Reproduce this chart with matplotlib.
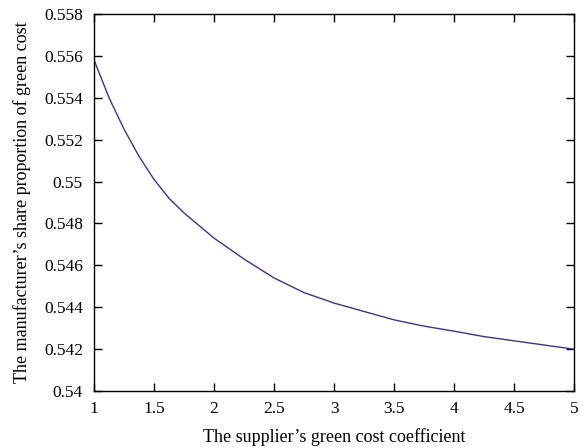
import matplotlib
matplotlib.use("Agg")
import matplotlib.pyplot as plt

# values
coef = [1.0, 1.125, 1.25, 1.375, 1.5, 1.625, 1.75, 1.875, 2.0, 2.25, 2.5, 2.75,
        3.0, 3.25, 3.5, 3.75, 4.0, 4.25, 4.5, 4.75, 5.0]
share = [0.5558, 0.5540, 0.5525, 0.5512, 0.5501, 0.5492, 0.5485, 0.5479, 0.5473,
         0.5463, 0.5454, 0.5447, 0.5442, 0.5438, 0.5434, 0.5431, 0.54286, 0.5426,
         0.5424, 0.5422, 0.5420]

x_ticks = [1, 1.5, 2, 2.5, 3, 3.5, 4, 4.5, 5]
x_labels = ["1", "1.5", "2", "2.5", "3", "3.5", "4", "4.5", "5"]
y_ticks = [0.54, 0.542, 0.544, 0.546, 0.548, 0.55, 0.552, 0.554, 0.556, 0.558]
y_labels = ["0.54", "0.542", "0.544", "0.546", "0.548", "0.55", "0.552", "0.554", "0.556", "0.558"]

plt.rcParams["font.family"] = ["Liberation Serif", "DejaVu Serif"]
plt.rcParams["font.size"] = 12.5


def main():
    fig = plt.figure(figsize=(5.84, 4.48), dpi=100)
    ax = fig.add_axes([0.161, 0.127, 0.822, 0.842])

    ax.plot(coef, share, color="#3a3399", lw=1.0)

    ax.set_xlim(1, 5)
    ax.set_ylim(0.54, 0.558)
    ax.set_xticks(x_ticks)
    ax.set_xticklabels(x_labels)
    ax.set_yticks(y_ticks)
    ax.set_yticklabels(y_labels)

    ax.tick_params(direction="in", length=6, width=1, top=True, right=True,
                   labelsize=12.5)
    ax.tick_params(axis="y", pad=8)
    ax.tick_params(axis="x", pad=7)
    for s in ax.spines.values():
        s.set_linewidth(1.0)

    ax.set_xlabel("The supplier\u2019s green cost coefficient", fontsize=13, labelpad=8)
    ax.set_ylabel("The manufacturer\u2019s share proportion of green cost", fontsize=13, labelpad=9)

    fig.savefig("out.png", dpi=100)
    plt.close(fig)


if __name__ == "__main__":
    main()
